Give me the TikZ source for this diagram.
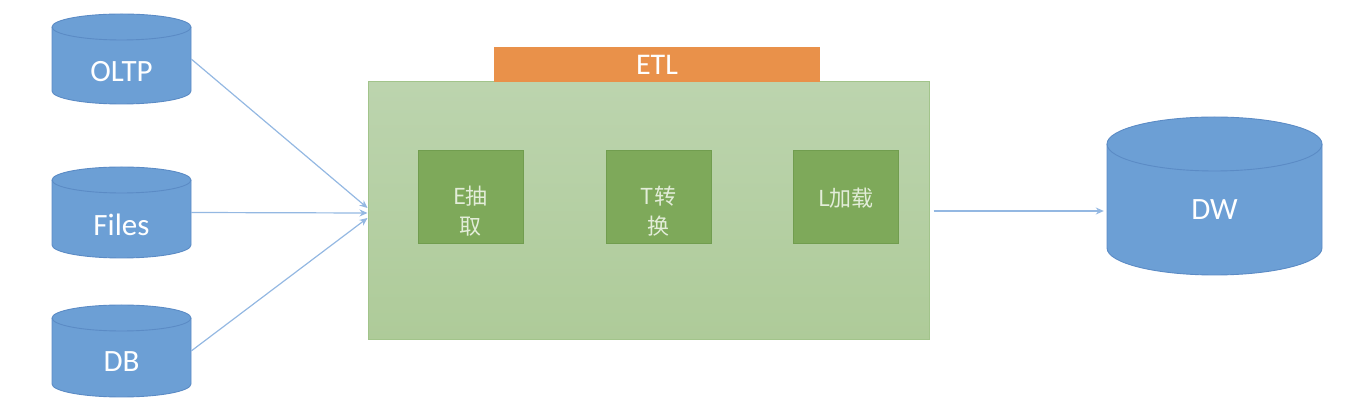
\documentclass[tikz,border=0pt]{standalone}
\usepackage{fontspec}
\setmainfont{Carlito}
\newfontfamily\cjk{Noto Sans CJK SC}
\usetikzlibrary{arrows.meta,fit}
\definecolor{cylblue}{HTML}{6C9FD5}
\definecolor{cylline}{HTML}{5B8BC5}
\definecolor{arrowblue}{HTML}{94B8E2}
\definecolor{greentop}{HTML}{BCD4AE}
\definecolor{greenbot}{HTML}{AECB99}
\definecolor{greenline}{HTML}{A2C48B}
\definecolor{innergreen}{HTML}{7EA95A}
\definecolor{innerline}{HTML}{719D4F}
\definecolor{innertext}{HTML}{E3EDD9}
\definecolor{etlorange}{HTML}{E9914A}
\tikzset{
  cylbody/.style={fill=cylblue, draw=cylline, line width=0.9pt},
  cyltext/.style={text=white, font=\fontsize{31}{36}\selectfont, inner sep=0pt},
  conn/.style={draw=arrowblue, line width=1.2pt, -{Stealth[length=8pt,width=7pt]}},
  bigbox/.style={draw=greenline, line width=1pt, top color=greentop, bottom color=greenbot, minimum width=561pt, minimum height=258pt, inner sep=0pt},
  etlbar/.style={fill=etlorange, minimum width=326pt, minimum height=35pt, inner sep=0pt, text=white, font=\fontsize{30}{34}\selectfont},
  stagebox/.style={fill=innergreen, draw=innerline, line width=0.8pt, minimum width=105pt, minimum height=93pt, inner sep=0pt},
  stagetext/.style={text=innertext, align=center, inner sep=0pt, font=\cjk\fontsize{22}{30}\selectfont}
}
% name, left, ytop, right, ybottom, ry, label, label y
\newcommand{\dbcyl}[8]{%
  \pgfmathsetmacro\cylrx{(#4-#2)/2}%
  \path[cylbody] (#2,#3-#6) -- (#2,#5+#6) arc[start angle=180,end angle=360,x radius=\cylrx pt,y radius=#6 pt] -- (#4,#3-#6) arc[start angle=0,end angle=180,x radius=\cylrx pt,y radius=#6 pt] -- cycle;
  \draw[cylline, line width=0.9pt] (#2,#3-#6) arc[start angle=180,end angle=360,x radius=\cylrx pt,y radius=#6 pt];
  \node[fit={(#2,#3) (#4,#5)}, inner sep=0pt] (#1) {};
  \node[cyltext] (#1-l) at ({(#2+#4)/2},#8) {#7};
}
\begin{document}
\begin{tikzpicture}[x=1pt,y=1pt]
\useasboundingbox (0,0) rectangle (1362,409);
\dbcyl{oltp}{52}{395}{191}{305}{13}{OLTP}{337}
\dbcyl{files}{52}{242}{191}{151}{13}{Files}{184}
\dbcyl{db}{52}{104}{191}{12}{13}{DB}{47}
\dbcyl{dw}{1107}{292}{1322}{134}{27}{DW}{199}
\node[bigbox] (green) at (648.5,198) {};
\node[etlbar] (etl) at (657,344.5) {ETL};
\node[stagebox] (e) at (470.5,212.5) {};
\node[stagebox] (t) at (658.5,212.5) {};
\node[stagebox] (l) at (846,212.5) {};
\node[stagetext] (e-t) at ([yshift=-15pt]e.center) {E抽\\取};
\node[stagetext] (t-t) at ([yshift=-15pt]t.center) {T转\\换};
\node[stagetext] (l-t) at ([yshift=-2pt]l.center) {L加载};
\draw[conn] (oltp.east) -- ([yshift=3pt]green.west);
\draw[conn] (files.east) -- ([yshift=-2pt]green.west);
\draw[conn] (db.east) -- ([yshift=-7pt]green.west);
\draw[conn, shorten >=3pt] ([xshift=4pt]green.east) -- (green.east -| dw.west);
\end{tikzpicture}
\end{document}
